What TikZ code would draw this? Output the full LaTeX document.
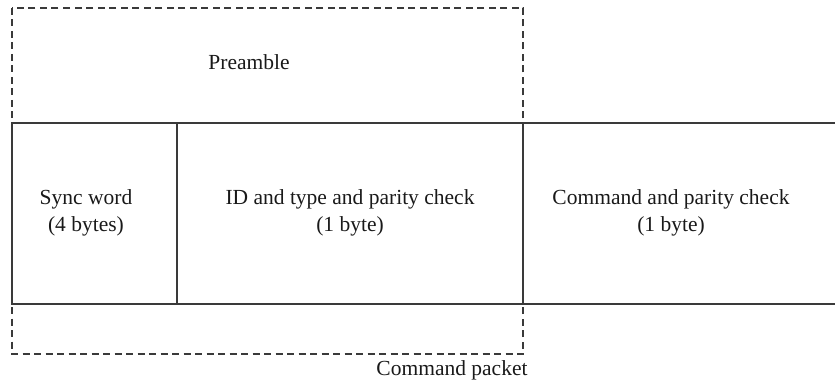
\documentclass[tikz,border=0pt]{standalone}
\usepackage{fontspec}
\setmainfont{Liberation Serif}
\definecolor{linegray}{HTML}{3A3A3A}
\begin{document}
\begin{tikzpicture}[x=1pt,y=-1pt,
  frame/.style={draw=linegray,line width=1.3pt},
  outline/.style={draw=linegray,line width=1.1pt,dash pattern=on 7pt off 4.5pt},
  lbl/.style={font=\fontsize{21.5}{27}\selectfont,align=center,inner sep=0pt,text=black!90}]
  \useasboundingbox (0,0) rectangle (835,385);
  % field grid
  \coordinate (tl) at (12,123);
  \coordinate (bl) at (12,304);
  \coordinate (tr) at (835,123);
  \coordinate (br) at (835,304);
  \coordinate (d1t) at (177,123);
  \coordinate (d1b) at (177,304);
  \coordinate (d2t) at (523,123);
  \coordinate (d2b) at (523,304);
  % dashed packet outline
  \coordinate (pa) at (12,8);
  \coordinate (pb) at (523,354);
  \draw[outline] (pa) rectangle (pb);
  \draw[frame] (tr) -- (tl) -- (bl) -- (br);
  \draw[frame] (d1t) -- (d1b);
  \draw[frame] (d2t) -- (d2b);
  % labels
  \node[lbl] (pre) at (249,62) {Preamble};
  \node[lbl] (sync) at (86,213) {Sync word\\(4 bytes)};
  \node[lbl] (id) at (350,213) {ID and type and parity check\\(1 byte)};
  \node[lbl] (cmd) at (671,213) {Command and parity check\\(1 byte)};
  \node[lbl] (pkt) at (452,370) {Command packet};
\end{tikzpicture}
\end{document}
